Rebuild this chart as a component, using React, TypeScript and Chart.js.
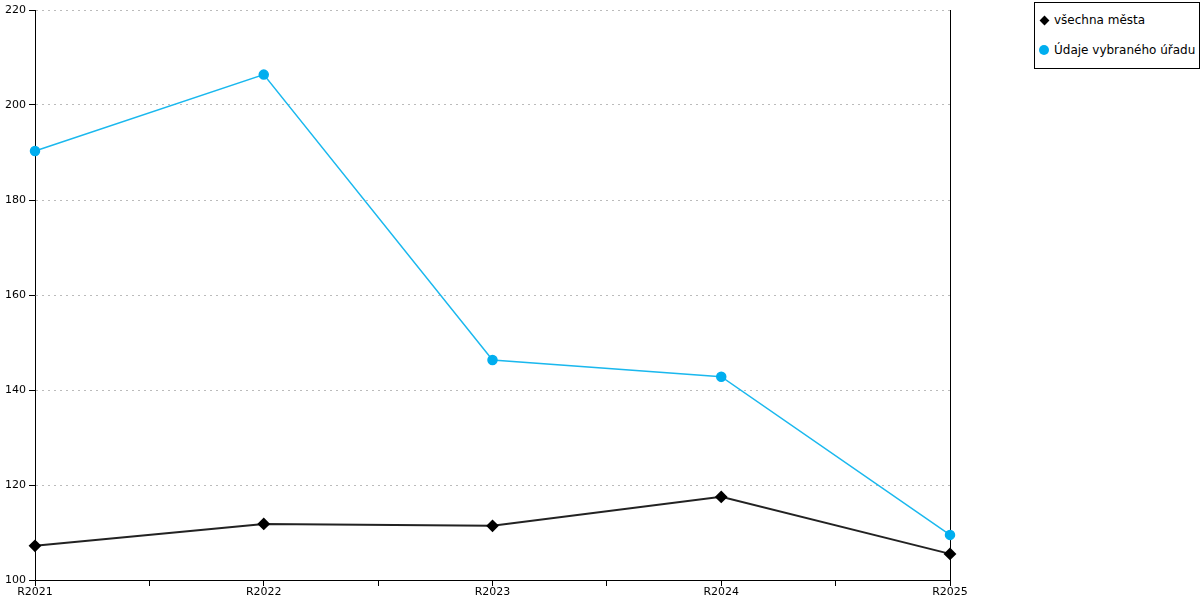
import React, { useEffect, useRef } from "react";
import { Chart, registerables } from "chart.js";

Chart.register(...registerables);

const categories = ["R2021", "R2022", "R2023", "R2024", "R2025"];
const allCities = [107.2, 111.8, 111.4, 117.5, 105.5];
const selectedOffice = [190.3, 206.4, 146.3, 142.8, 109.5];
const seriesNames = ["všechna města", "Údaje vybraného úřadu"];
const yMin = 100;
const yMax = 220;
const yStep = 20;

const BLUE = "#00aeef";
const FONT = "'DejaVu Sans', Verdana, sans-serif";

const rightBorder = {
  id: "rightBorder",
  beforeDatasetsDraw(chart: any) {
    const { ctx, chartArea } = chart;
    ctx.save();
    ctx.strokeStyle = "#000";
    ctx.lineWidth = 1;
    ctx.beginPath();
    const x = Math.round(chartArea.right) + 0.5;
    ctx.moveTo(x, chartArea.top);
    ctx.lineTo(x, chartArea.bottom);
    ctx.stroke();
    ctx.restore();
  },
};

export default function App() {
  const ref = useRef<HTMLCanvasElement | null>(null);

  useEffect(() => {
    if (!ref.current) return;
    const chart = new Chart(ref.current, {
      type: "line",
      data: {
        datasets: [
          {
            label: seriesNames[1],
            data: selectedOffice.map((v, i) => ({ x: i, y: v })),
            borderColor: "#1ab8ee",
            backgroundColor: BLUE,
            pointBackgroundColor: BLUE,
            pointBorderColor: BLUE,
            pointStyle: "circle",
            pointRadius: 4.5,
            borderWidth: 1.5,
            tension: 0,
            clip: false,
          },
          {
            label: seriesNames[0],
            data: allCities.map((v, i) => ({ x: i, y: v })),
            borderColor: "#222222",
            backgroundColor: "#000",
            pointBackgroundColor: "#000",
            pointBorderColor: "#000",
            pointStyle: "rectRot",
            pointRadius: 5,
            borderWidth: 2,
            tension: 0,
            clip: false,
          },
        ],
      },
      options: {
        animation: false,
        responsive: false,
        devicePixelRatio: 1,
        layout: { padding: { left: 0, right: 250, top: 10, bottom: 0 } },
        plugins: { legend: { display: false }, tooltip: { enabled: false } },
        scales: {
          x: {
            type: "linear",
            min: 0,
            max: categories.length - 1,
            afterFit: (s: any) => {
              s.height = 20;
            },
            afterBuildTicks: (s: any) => {
              const t = [];
              for (let v = 0; v <= categories.length - 1; v += 0.5) t.push({ value: v });
              s.ticks = t;
            },
            ticks: {
              autoSkip: false,
              maxRotation: 0,
              padding: 0,
              color: "#000",
              font: { family: FONT, size: 11 },
              callback: (v: any) => (Number.isInteger(v) ? categories[v] : ""),
            },
            grid: {
              drawOnChartArea: false,
              drawTicks: true,
              tickLength: 6,
              tickColor: "#000",
            },
            border: { display: true, color: "#000", width: 1 },
          },
          y: {
            min: yMin,
            max: yMax,
            afterFit: (s: any) => {
              s.width = 35;
            },
            ticks: {
              stepSize: yStep,
              padding: 3,
              color: "#000",
              font: { family: FONT, size: 11 },
            },
            grid: {
              drawOnChartArea: true,
              drawTicks: true,
              tickLength: 6,
              color: "#bbbbbb",
              tickColor: "#000",
              lineWidth: 1,
            },
            border: { display: true, color: "#000", width: 1, dash: [2, 4] },
          },
        },
      },
      plugins: [rightBorder],
    });
    return () => chart.destroy();
  }, []);

  return (
    <div style={{ position: "absolute", left: 0, top: 0, width: 1200, height: 600, background: "#fff" }}>
      <canvas ref={ref} width={1200} height={600} style={{ width: 1200, height: 600, display: "block" }} />
      <div
        style={{
          position: "absolute",
          left: 1034,
          top: 2,
          width: 164,
          height: 65,
          border: "1px solid #000",
          fontFamily: FONT,
          fontSize: 12,
          color: "#000",
          background: "#fff",
        }}
      >
        <div style={{ position: "absolute", left: 4, top: 10, display: "flex", alignItems: "center", whiteSpace: "nowrap" }}>
          <span style={{ display: "inline-block", width: 7, height: 7, background: "#000", transform: "rotate(45deg)", margin: "0 6px 0 2px" }} />
          <span>{seriesNames[0]}</span>
        </div>
        <div style={{ position: "absolute", left: 4, top: 40, display: "flex", alignItems: "center", whiteSpace: "nowrap" }}>
          <span style={{ display: "inline-block", width: 10, height: 10, borderRadius: 5, background: BLUE, margin: "0 5px 0 0" }} />
          <span>{seriesNames[1]}</span>
        </div>
      </div>
    </div>
  );
}
